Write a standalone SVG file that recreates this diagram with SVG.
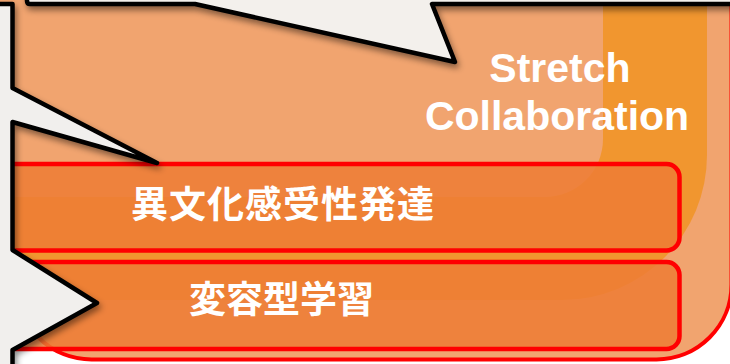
<svg xmlns="http://www.w3.org/2000/svg" width="730" height="364" viewBox="0 0 730 364">
<defs>
<filter id="sh" x="-20%" y="-20%" width="140%" height="140%">
<feDropShadow dx="2" dy="4" stdDeviation="3" flood-color="#000" flood-opacity="0.45"/>
</filter>
<style>
.box{fill:#ED7D35;fill-opacity:0.85;stroke:#FF0000;stroke-width:4.5}
.bubble{fill:#F3F0EC;stroke:#000;stroke-width:4.5;stroke-linejoin:round;filter:url(#sh)}
.lat{font-family:"Liberation Sans",Arial,sans-serif;font-weight:700;font-size:41px;fill:#FFFFFF;text-anchor:middle}
.jp{font-family:"Noto Sans CJK JP","Noto Sans",sans-serif;font-weight:700;font-size:37px;fill:#FFFFFF;text-anchor:middle}
</style>
</defs>
<rect width="730" height="364" fill="#FFFFFF"/>
<g id="frame">
<rect x="16.5" y="-120" width="715" height="479.5" rx="75" fill="#F1A46F" stroke="#FF0000" stroke-width="4"/>
<rect x="-100" y="-200" width="807" height="500" rx="145" fill="#F1962F"/>
<rect x="-100" y="-200" width="703" height="397" rx="58" fill="#F1A46F"/>
</g>
<g id="node-stretch">
<text class="lat" x="560" y="81.5">Stretch</text>
<text class="lat" x="557" y="129.5">Collaboration</text>
</g>
<g id="node-ibunka">
<rect class="box" x="-100" y="164" width="779.5" height="86.5" rx="13"/>
<text class="jp" x="283" y="217.5" letter-spacing="1">異文化感受性発達</text>
</g>
<g id="node-henyo">
<rect class="box" x="-100" y="262" width="779.5" height="87" rx="13"/>
<text class="jp" x="281.5" y="312.5">変容型学習</text>
</g>
<g id="bubble-top">
<path class="bubble" d="M27,-60 L27,1 Q27,4 30,4 L195,4 L455,62 L432,4 L745,4 L745,-60 Z"/>
</g>
<g id="bubble-left">
<path class="bubble" style="fill:#F1EFED" d="M-20,4 L12.5,4 L12.5,88 L157,163 L12.5,122 L12.5,250 L97,303 L12.5,350 L12.5,380 L-20,380 Z"/>
</g>
</svg>
